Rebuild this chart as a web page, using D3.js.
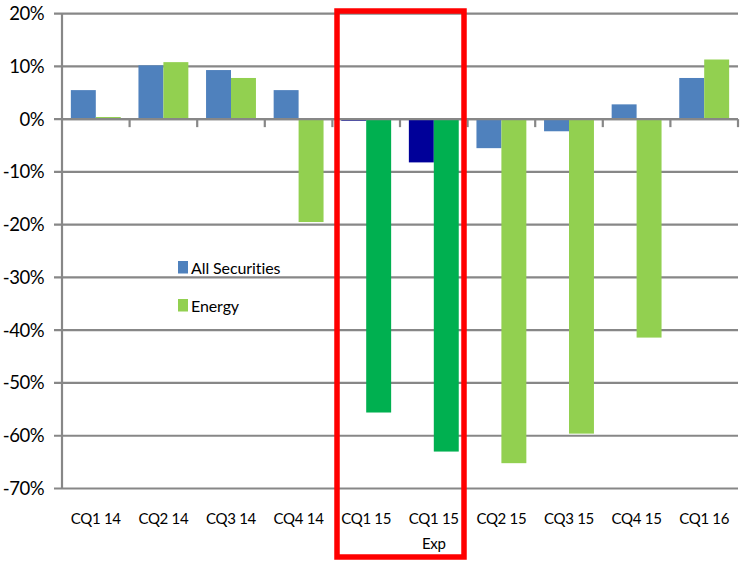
<!DOCTYPE html>
<html><head><meta charset="utf-8">
<script src="https://cdn.jsdelivr.net/npm/d3@7"></script>
<style>body{margin:0;background:#fff}svg{display:block}text{font-family:Lato,"Open Sans",sans-serif}</style>
</head><body>
<svg id="c" width="748" height="562"></svg>
<script>
const categories = ["CQ1 14","CQ2 14","CQ3 14","CQ4 14","CQ1 15","CQ1 15\nExp","CQ2 15","CQ3 15","CQ4 15","CQ1 16"];
const allSecurities = [5.5, 10.2, 9.3, 5.5, -0.3, -8.2, -5.5, -2.3, 2.8, 7.8];
const energy = [0.4, 10.8, 7.8, -19.5, -55.6, -63.0, -65.2, -59.6, -41.4, 11.3];
const yTicks = [20, 10, 0, -10, -20, -30, -40, -50, -60, -70];
const highlighted = ["CQ1 15","CQ1 15\nExp"];
const seriesNames = ["All Securities","Energy"];

const svg = d3.select("#c");
const L = 62, R = 738, T = 13.6, B = 488.5;
const x = d3.scaleBand().domain(categories).range([L, R]).paddingInner(0).paddingOuter(0);
const y = d3.scaleLinear().domain([-70, 20]).range([B, T]);
const sub = d3.scaleBand().domain(seriesNames).range([0, x.bandwidth()]).paddingInner(0).paddingOuter(0.355);
const gray = "#878787";

// gridlines
svg.append("g").selectAll("line").data(yTicks).join("line")
  .attr("x1", L - 8).attr("x2", R).attr("y1", d => y(d)).attr("y2", d => y(d))
  .attr("stroke", gray).attr("stroke-width", 2.2);

// y labels
svg.append("g").selectAll("text").data(yTicks).join("text")
  .attr("x", 44).attr("y", d => y(d) + 6.5).attr("text-anchor", "end")
  .attr("font-size", 18.5).attr("fill", "#000").attr("letter-spacing", -0.5)
  .text(d => d + "%");

const colors = {
  "All Securities": d => highlighted.includes(d) ? "#000099" : "#4F81BD",
  "Energy": d => highlighted.includes(d) ? "#00B050" : "#92D050"
};
const data = [allSecurities, energy];

seriesNames.forEach((s, si) => {
  svg.append("g").selectAll("rect").data(categories).join("rect")
    .attr("x", d => x(d) + sub(s))
    .attr("width", sub.bandwidth())
    .attr("y", (d, i) => y(Math.max(0, data[si][i])))
    .attr("height", (d, i) => Math.abs(y(data[si][i]) - y(0)))
    .attr("fill", d => colors[s](d));
});

// zero axis ticks at band boundaries
const bounds = categories.map(c => x(c)).concat([R]);
svg.append("g").selectAll("line").data(bounds.slice(1)).join("line")
  .attr("x1", d => d).attr("x2", d => d).attr("y1", y(0)).attr("y2", y(0) + 8)
  .attr("stroke", gray).attr("stroke-width", 2.2);
svg.append("line").attr("x1", L).attr("x2", R).attr("y1", y(0)).attr("y2", y(0))
  .attr("stroke", gray).attr("stroke-width", 2.2);
// y axis line
svg.append("line").attr("x1", L).attr("x2", L).attr("y1", T).attr("y2", B)
  .attr("stroke", gray).attr("stroke-width", 2.2);

// x labels
const xl = svg.append("g").selectAll("text").data(categories).join("text")
  .attr("text-anchor", "middle").attr("font-size", 15).attr("fill", "#000")
  .attr("letter-spacing", -0.3);
xl.each(function(d) {
  const parts = d.split("\n");
  const t = d3.select(this);
  parts.forEach((p, i) => {
    t.append("tspan").attr("x", x(d) + x.bandwidth() / 2).attr("y", 524 + i * 25).text(p);
  });
});

// legend
const lg = svg.append("g");
seriesNames.forEach((s, i) => {
  lg.append("rect").attr("x", 178).attr("y", 261 + i * 38).attr("width", 10).attr("height", 12.5)
    .attr("fill", s === "Energy" ? "#92D050" : "#4F81BD");
  lg.append("text").attr("x", 191).attr("y", 274 + i * 38).attr("font-size", 16)
    .attr("letter-spacing", -0.1).attr("fill", "#000").text(s);
});

// red highlight box
const bx0 = x("CQ1 15") + 4.6, bx1 = x("CQ1 15\nExp") + x.bandwidth() - 3.6;
svg.append("rect").attr("x", bx0).attr("y", 11).attr("width", bx1 - bx0).attr("height", 546)
  .attr("fill", "none").attr("stroke", "#FF0000").attr("stroke-width", 5.5);
</script>
</body></html>
